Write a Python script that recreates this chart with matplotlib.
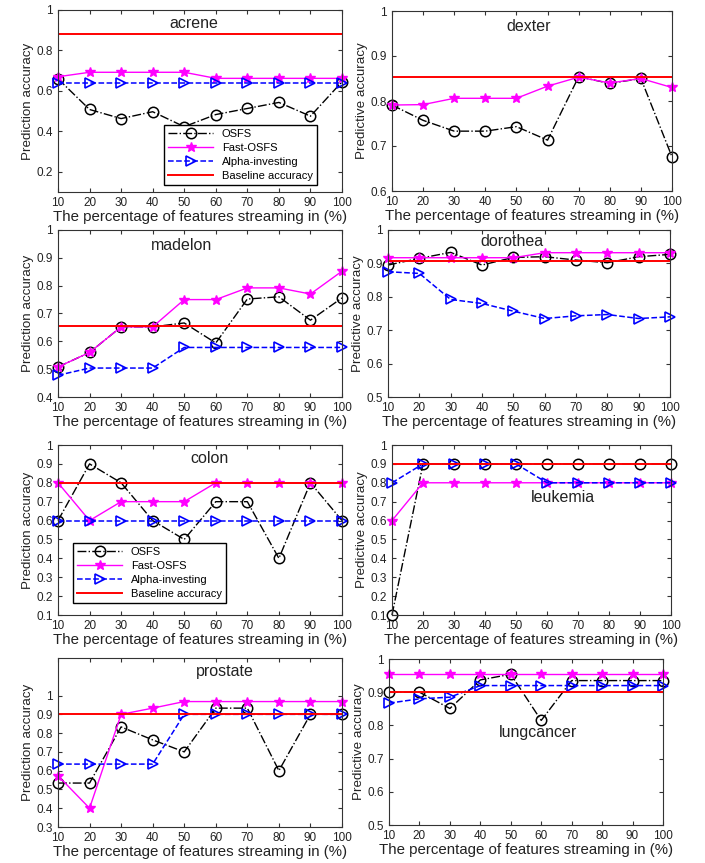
import numpy as np
import matplotlib
matplotlib.use("Agg")
import matplotlib.pyplot as plt
from matplotlib.ticker import FuncFormatter

plt.rcParams['font.family'] = ['Liberation Sans', 'DejaVu Sans']

pct = [10, 20, 30, 40, 50, 60, 70, 80, 90, 100]

# acrene
acrene_osfs = [0.66, 0.508, 0.463, 0.497, 0.423, 0.483, 0.513, 0.543, 0.475, 0.645]
acrene_fast = [0.67, 0.692, 0.692, 0.692, 0.692, 0.662, 0.662, 0.662, 0.662, 0.662]
acrene_alpha = [0.637] * 10
acrene_base = 0.883

# dexter (no alpha-investing curve)
dexter_osfs = [0.791, 0.757, 0.733, 0.733, 0.743, 0.713, 0.854, 0.839, 0.850, 0.676]
dexter_fast = [0.791, 0.792, 0.806, 0.806, 0.806, 0.833, 0.853, 0.840, 0.850, 0.830]
dexter_alpha = None
dexter_base = 0.854

# madelon
madelon_osfs = [0.508, 0.56, 0.652, 0.652, 0.666, 0.594, 0.752, 0.76, 0.676, 0.756]
madelon_fast = [0.508, 0.56, 0.652, 0.652, 0.75, 0.75, 0.792, 0.792, 0.77, 0.852]
madelon_alpha = [0.478, 0.504, 0.504, 0.504, 0.578, 0.578, 0.578, 0.578, 0.578, 0.578]
madelon_base = 0.654

# dorothea
dorothea_osfs = [0.895, 0.915, 0.933, 0.895, 0.918, 0.92, 0.91, 0.902, 0.92, 0.927]
dorothea_fast = [0.917, 0.917, 0.917, 0.917, 0.917, 0.932, 0.932, 0.932, 0.932, 0.932]
dorothea_alpha = [0.875, 0.87, 0.792, 0.78, 0.757, 0.735, 0.743, 0.747, 0.735, 0.74]
dorothea_base = 0.907

# colon
colon_osfs = [0.6, 0.9, 0.8, 0.6, 0.5, 0.7, 0.7, 0.4, 0.8, 0.6]
colon_fast = [0.8, 0.6, 0.7, 0.7, 0.7, 0.8, 0.8, 0.8, 0.8, 0.8]
colon_alpha = [0.6] * 10
colon_base = 0.8

# leukemia
leukemia_osfs = [0.1, 0.9, 0.9, 0.9, 0.9, 0.9, 0.9, 0.9, 0.9, 0.9]
leukemia_fast = [0.6, 0.8, 0.8, 0.8, 0.8, 0.8, 0.8, 0.8, 0.8, 0.8]
leukemia_alpha = [0.8, 0.9, 0.9, 0.9, 0.9, 0.8, 0.8, 0.8, 0.8, 0.8]
leukemia_base = 0.9

# prostate
prostate_osfs = [0.534, 0.534, 0.833, 0.764, 0.70, 0.933, 0.933, 0.6, 0.9, 0.9]
prostate_fast = [0.573, 0.4, 0.9, 0.933, 0.968, 0.968, 0.968, 0.968, 0.968, 0.968]
prostate_alpha = [0.635, 0.635, 0.635, 0.635, 0.9, 0.9, 0.9, 0.9, 0.9, 0.9]
prostate_base = 0.9

# lungcancer
lung_osfs = [0.9, 0.9, 0.851, 0.937, 0.954, 0.815, 0.935, 0.935, 0.935, 0.935]
lung_fast = [0.954] * 10
lung_alpha = [0.867, 0.88, 0.885, 0.92, 0.92, 0.92, 0.92, 0.92, 0.92, 0.92]
lung_base = 0.9

W, H = 705, 863

# name, data, ylim, yticks, axes box in pixels (left, top, right, bottom), ylabel, title pos, legend
panels = [
    ("acrene", acrene_osfs, acrene_fast, acrene_alpha, acrene_base,
     (0.1, 1.0), [0.2, 0.4, 0.6, 0.8, 1.0], (58, 10, 342, 192),
     "Prediction accuracy", (53, 0.933), "lower right"),
    ("dexter", dexter_osfs, dexter_fast, dexter_alpha, dexter_base,
     (0.6, 1.0), [0.6, 0.7, 0.8, 0.9, 1.0], (392, 11, 672, 191),
     "Predictive accuracy", (54, 0.965), None),
    ("madelon", madelon_osfs, madelon_fast, madelon_alpha, madelon_base,
     (0.4, 1.0), [0.4, 0.5, 0.6, 0.7, 0.8, 0.9, 1.0], (58, 230, 342, 397),
     "Prediction accuracy", (49, 0.946), None),
    ("dorothea", dorothea_osfs, dorothea_fast, dorothea_alpha, dorothea_base,
     (0.5, 1.0), [0.5, 0.6, 0.7, 0.8, 0.9, 1.0], (388, 230, 670, 397),
     "Predictive accuracy", (49.6, 0.967), None),
    ("colon", colon_osfs, colon_fast, colon_alpha, colon_base,
     (0.1, 1.0), [0.1, 0.2, 0.3, 0.4, 0.5, 0.6, 0.7, 0.8, 0.9, 1.0], (58, 445, 342, 615),
     "Prediction accuracy", (58, 0.93), "lower left"),
    ("leukemia", leukemia_osfs, leukemia_fast, leukemia_alpha, leukemia_base,
     (0.1, 1.0), [0.1, 0.2, 0.3, 0.4, 0.5, 0.6, 0.7, 0.8, 0.9, 1.0], (392, 445, 671, 615),
     "Predictive accuracy", (65, 0.72), None),
    ("prostate", prostate_osfs, prostate_fast, prostate_alpha, prostate_base,
     (0.3, 1.2), [0.3, 0.4, 0.5, 0.6, 0.7, 0.8, 0.9, 1.0], (58, 658, 342, 827),
     "Prediction accuracy", (63, 1.13), None),
    ("lungcancer", lung_osfs, lung_fast, lung_alpha, lung_base,
     (0.5, 1.0), [0.5, 0.6, 0.7, 0.8, 0.9, 1.0], (389, 659, 663, 825),
     "Predictive accuracy", (59, 0.78), None),
]

fig = plt.figure(figsize=(W / 100, H / 100), dpi=100)

for (name, osfs, fast, alpha, base, ylim, yticks, box, ylabel, tpos, legloc) in panels:
    l, t, r, b = box
    ax = fig.add_axes([l / W, 1 - b / H, (r - l) / W, (b - t) / H])
    ax.plot(pct, osfs, color="black", linestyle="-.", linewidth=1,
            marker="o", markersize=7.5, markerfacecolor="none",
            markeredgewidth=1.1, clip_on=False, label="OSFS")
    ax.plot(pct, fast, color="magenta", linestyle="-", linewidth=1,
            marker="*", markersize=7.5, clip_on=False, label="Fast-OSFS")
    if alpha is not None:
        ax.plot(pct, alpha, color="blue", linestyle="--", linewidth=1.1,
                marker=">", markersize=7.5, markerfacecolor="none",
                markeredgewidth=1.2, clip_on=False, label="Alpha-investing")
    else:
        ax.plot([], [], color="blue", linestyle="--", marker=">",
                markerfacecolor="none", label="Alpha-investing")
    ax.axhline(base, color="red", linewidth=1.4, label="Baseline accuracy")

    ax.set_xlim(10, 100)
    ax.set_ylim(*ylim)
    ax.set_xticks(pct)
    ax.set_yticks(yticks)
    ax.yaxis.set_major_formatter(FuncFormatter(lambda v, p: "%g" % round(v, 2)))
    ax.tick_params(direction="in", top=True, right=True, length=3,
                   labelsize=8.5, colors="#333333", labelcolor="#222222")
    for s in ax.spines.values():
        s.set_color("#333333")
        s.set_linewidth(0.8)
    ax.set_xlabel("The percentage of features streaming in (%)", fontsize=10.8,
                  color="#222222", labelpad=1)
    ax.set_ylabel(ylabel, fontsize=9.6, color="#222222", labelpad=2)
    ax.text(tpos[0], tpos[1], name, fontsize=11.5, ha="center", va="center",
            color="#222222")

    if legloc == "lower right":
        ax.legend(loc="lower right", bbox_to_anchor=(0.93, 0.01), fontsize=8,
                  fancybox=False, edgecolor="black", framealpha=1,
                  handlelength=4, borderpad=0.35, labelspacing=0.35)
    elif legloc == "lower left":
        ax.legend(loc="lower left", bbox_to_anchor=(0.035, 0.04), fontsize=8,
                  fancybox=False, edgecolor="black", framealpha=1,
                  handlelength=4, borderpad=0.35, labelspacing=0.35)

fig.savefig("out.png", dpi=100)
